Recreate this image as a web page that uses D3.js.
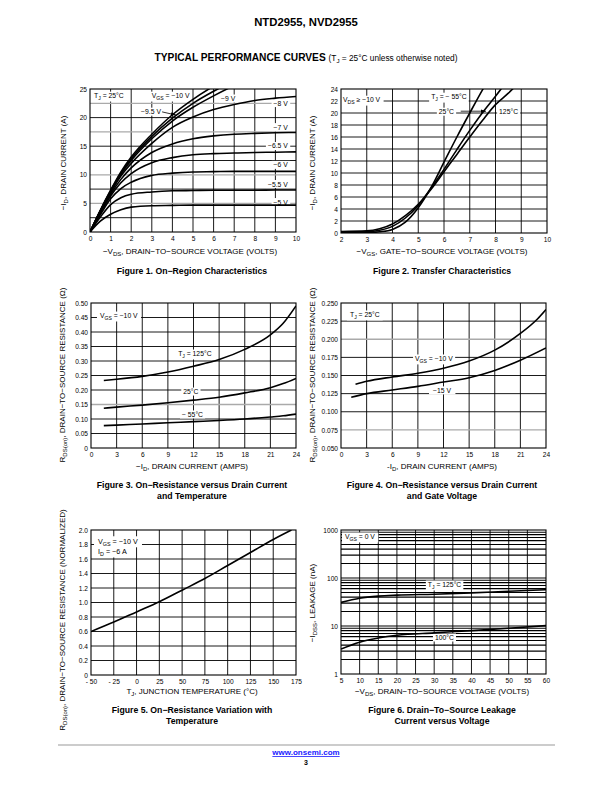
<!DOCTYPE html>
<html><head><meta charset="utf-8">
<script src="https://cdn.jsdelivr.net/npm/d3@7"></script>
<style>body{margin:0;background:#fff}svg{display:block}text{font-family:"Liberation Sans",Arial,Helvetica,sans-serif;fill:#000}</style>
</head><body><svg id="c" width="612" height="792"></svg>
<script>
// ---------------- DATA ----------------
// Figure 1: On-region characteristics
const f1Vds = [0, 0.5, 1, 1.5, 2, 3, 4, 5, 6, 7, 8, 9, 10];
const f1Id_5   = [0, 1.9, 3.1, 3.9, 4.35, 4.6, 4.65, 4.7, 4.7, 4.7, 4.7, 4.7, 4.7];
const f1Id_55  = [0, 2.6, 4.8, 6.0, 6.6, 7.0, 7.2, 7.25, 7.3, 7.3, 7.3, 7.35, 7.35];
const f1Id_6   = [0, 3.0, 5.8, 7.6, 8.7, 9.9, 10.3, 10.5, 10.55, 10.6, 10.6, 10.6, 10.6];
const f1Id_65  = [0, 3.3, 6.3, 8.6, 10.2, 12.1, 13.0, 13.5, 13.7, 13.8, 13.9, 13.95, 14.0];
const f1Id_7   = [0, 3.5, 6.6, 9.2, 11.2, 13.9, 15.4, 16.3, 16.8, 17.1, 17.25, 17.35, 17.4];
const f1Id_8   = [0, 3.6, 6.9, 9.8, 12.0, 15.5, 18.3, 20.1, 21.4, 22.3, 23.0, 23.4, 23.7];
const f1Id_9   = [0, 3.7, 7.1, 10.1, 12.5, 16.3, 19.4, 21.8, 23.8, 25.6, 27, 28, 29];
const f1Id_95  = [0, 3.75, 7.2, 10.3, 12.8, 16.7, 19.9, 22.5, 24.6, 26.5, 28, 29, 30];
const f1Id_10  = [0, 3.8, 7.3, 10.5, 13.1, 17.1, 20.5, 23.2, 25.5, 27.5, 29, 30, 31];
const f1XTicks = [0,1,2,3,4,5,6,7,8,9,10];
const f1YTicks = [0,5,10,15,20,25];
const f1YGrid  = [2.5,5,7.5,10,12.5,15,17.5,20,22.5];
const f1YGray  = [5,10,17.5,22.5];

// Figure 2: Transfer characteristics
const f2Vgs   = [2, 3, 3.5, 4, 4.5, 5, 5.5, 6, 6.5, 7, 7.5, 8, 8.5, 9];
const f2Id_m55 = [0.0, 0.05, 0.2, 0.6, 1.8, 4.2, 7.6, 11.8, 16.0, 20.0, 23.9, 27.5, 31, 34];
const f2Id_25  = [0.1, 0.2, 0.45, 1.1, 2.5, 4.6, 7.5, 10.6, 13.9, 17.1, 20.1, 22.8, 25.6, 28];
const f2Id_125 = [0.25, 0.35, 0.7, 1.5, 2.9, 4.8, 7.3, 10.2, 13.1, 16.0, 18.8, 21.4, 23.3, 25.5];
const f2XTicks = [2,3,4,5,6,7,8,9,10];
const f2YTicks = [0,2,4,6,8,10,12,14,16,18,20,22,24];

// Figure 3: RDS(on) vs drain current and temperature
const f3Id    = [1.5, 3, 6, 9, 12, 15, 18, 21, 22.5, 24];
const f3R_125 = [0.233, 0.237, 0.247, 0.262, 0.282, 0.305, 0.340, 0.390, 0.430, 0.490];
const f3R_25  = [0.137, 0.141, 0.148, 0.156, 0.165, 0.175, 0.190, 0.208, 0.222, 0.240];
const f3R_m55 = [0.077, 0.079, 0.083, 0.087, 0.091, 0.095, 0.100, 0.107, 0.111, 0.117];
const f3XTicks = [0,3,6,9,12,15,18,21,24];
const f3YTicks = [0,0.05,0.10,0.15,0.20,0.25,0.30,0.35,0.40,0.45,0.50];
const f3YGray  = [0.15];

// Figure 4: RDS(on) vs drain current and gate voltage
const f4Id10  = [1.7, 3, 6, 9, 12, 15, 18, 21, 23, 24];
const f4R_10  = [0.138, 0.142, 0.148, 0.153, 0.160, 0.170, 0.185, 0.208, 0.228, 0.241];
const f4Id15  = [1.2, 3, 6, 9, 12, 15, 18, 21, 24];
const f4R_15  = [0.120, 0.125, 0.130, 0.135, 0.141, 0.147, 0.157, 0.171, 0.188];
const f4XTicks = [0,3,6,9,12,15,18,21,24];
const f4YTicks = [0.050,0.075,0.100,0.125,0.150,0.175,0.200,0.225,0.250];
const f4YGray  = [0.075,0.200];

// Figure 5: normalized RDS(on) vs temperature
const f5T = [-50, -25, 0, 25, 50, 75, 100, 125, 150, 170];
const f5R = [0.60, 0.73, 0.87, 1.01, 1.17, 1.33, 1.51, 1.69, 1.87, 2.00];
const f5XTicks = [-50,-25,0,25,50,75,100,125,150,175];
const f5XLabels = ["- 50","- 25","0","25","50","75","100","125","150","175"];
const f5YTicks = [0,0.2,0.4,0.6,0.8,1.0,1.2,1.4,1.6,1.8,2.0];

// Figure 6: drain-to-source leakage vs voltage
const f6V      = [5, 10, 15, 20, 30, 40, 50, 60];
const f6I_125  = [31, 38, 42, 44, 46, 49, 53, 57];
const f6I_100  = [3.3, 4.6, 5.6, 6.4, 7.2, 8.0, 9.0, 10.2];
const f6XTicks = [5,10,15,20,25,30,35,40,45,50,55,60];
const f6YTicks = [1,10,100,1000];

// ---------------- DRAWING ----------------
const svg = d3.select("#c");
const TICK = 6.6, TITLE = 8, CAP = 8.7;

function rich(sel, str, size){
  const parts = str.split(/(_\{[^}]*\})/).filter(s=>s.length);
  let shifted = false;
  parts.forEach(p=>{
    if (p.startsWith("_{")){
      sel.append("tspan").attr("font-size", size*0.75).attr("dy", size*0.28).text(p.slice(2,-1));
      shifted = true;
    } else {
      const t = sel.append("tspan").text(p);
      if (shifted){ t.attr("dy", -size*0.28); shifted = false; }
    }
  });
  return sel;
}

function boxedLabel(g, str, x, y, size, anchor, pad){
  const t = g.append("text").attr("x", x).attr("y", y).attr("font-size", size)
    .attr("text-anchor", anchor || "start");
  rich(t, str, size);
  const b = t.node().getBBox();
  const p = pad == null ? 2 : pad;
  g.insert("rect", () => t.node()).attr("x", b.x - p).attr("y", b.y - 0.5)
    .attr("width", b.width + 2*p).attr("height", b.height + 1).attr("fill", "#fff");
  return t;
}

let clipId = 0;
function chart(c){
  const x = (c.xlog ? d3.scaleLog() : d3.scaleLinear()).domain(c.xd).range([c.L, c.R]);
  const y = (c.ylog ? d3.scaleLog() : d3.scaleLinear()).domain(c.yd).range([c.B, c.T]);
  const g = svg.append("g");
  const id = "clip" + (clipId++);
  g.append("clipPath").attr("id", id).append("rect")
    .attr("x", c.L).attr("y", c.T).attr("width", c.R - c.L).attr("height", c.B - c.T);

  const isGray = d => (c.ygray||[]).some(v=>Math.abs(v-d)<1e-9);
  const grid = g.append("g");
  grid.selectAll(".vx").data(c.xgrid).join("line")
    .attr("x1", d=>x(d)).attr("x2", d=>x(d)).attr("y1", c.T).attr("y2", c.B)
    .attr("stroke", "#000").attr("stroke-width", 0.9);
  grid.selectAll(".hy").data(c.ygrid).join("line")
    .attr("y1", d=>y(d)).attr("y2", d=>y(d)).attr("x1", c.L).attr("x2", c.R)
    .attr("stroke", d => isGray(d) ? "#aaa" : "#000")
    .attr("stroke-width", d => isGray(d) ? 1.3 : (c.gw || 0.9));

  const lab = g.append("g");
  (c.labels||[]).forEach(L => boxedLabel(lab, L.t, x(L.x), y(L.y), L.size || 6.8, L.anchor, L.pad));

  const cg = g.append("g").attr("clip-path", `url(#${id})`);
  c.series.forEach(s => {
    const line = d3.line().x(d=>x(d[0])).y(d=>y(d[1])).curve(d3.curveMonotoneX);
    cg.append("path").datum(d3.zip(s.x, s.y)).attr("d", line)
      .attr("fill", "none").attr("stroke", "#000").attr("stroke-width", s.w || 1.6);
  });

  (c.arrows||[]).forEach(a => {
    const x1 = x(a.from[0]), y1 = y(a.from[1]), x2 = x(a.to[0]), y2 = y(a.to[1]);
    g.append("line").attr("x1", x1).attr("y1", y1).attr("x2", x2).attr("y2", y2)
      .attr("stroke", "#000").attr("stroke-width", 0.8);
    const ang = Math.atan2(y2 - y1, x2 - x1), L = 5, W = 1.8;
    const p = [[x2, y2],
      [x2 - L*Math.cos(ang) + W*Math.sin(ang), y2 - L*Math.sin(ang) - W*Math.cos(ang)],
      [x2 - L*Math.cos(ang) - W*Math.sin(ang), y2 - L*Math.sin(ang) + W*Math.cos(ang)]];
    g.append("polygon").attr("points", p.map(q=>q.join(",")).join(" ")).attr("fill", "#000");
  });

  g.append("rect").attr("x", c.L).attr("y", c.T).attr("width", c.R - c.L).attr("height", c.B - c.T)
    .attr("fill", "none").attr("stroke", "#000").attr("stroke-width", 1.1);

  const ax = d3.axisBottom(x).tickValues(c.xticks).tickSize(0).tickPadding(3)
    .tickFormat((d,i) => c.xlabels ? c.xlabels[i] : c.xfmt(d));
  const axg = g.append("g").attr("transform", `translate(0,${c.B})`).call(ax);
  axg.select(".domain").remove();
  axg.selectAll("text").attr("font-size", TICK).attr("font-family", null).attr("dy", "0.85em");
  const ay = d3.axisLeft(y).tickValues(c.yticks).tickSize(0).tickPadding(3).tickFormat(c.yfmt);
  const ayg = g.append("g").attr("transform", `translate(${c.L},0)`).call(ay);
  ayg.select(".domain").remove();
  ayg.selectAll("text").attr("font-size", TICK).attr("font-family", null);

  rich(g.append("text").attr("x", c.xtx).attr("y", c.xty).attr("font-size", TITLE)
    .attr("text-anchor", "middle"), c.xtitle, TITLE);
  rich(g.append("text").attr("transform", `translate(${c.ytx},${c.yty}) rotate(-90)`)
    .attr("font-size", TITLE).attr("text-anchor", "middle"), c.ytitle, TITLE);

  c.caption.forEach((s, i) => g.append("text").attr("x", c.capx).attr("y", c.capy + i*11)
    .attr("font-size", CAP).attr("font-weight", "bold").attr("text-anchor", "middle").text(s));
}

// header
svg.append("text").attr("x", 306).attr("y", 26).attr("text-anchor", "middle")
  .attr("font-size", 11.3).attr("font-weight", "bold").text("NTD2955, NVD2955");
const sub = svg.append("text").attr("x", 306).attr("y", 61).attr("text-anchor", "middle");
sub.append("tspan").attr("font-size", 10.2).attr("font-weight", "bold").text("TYPICAL PERFORMANCE CURVES ");
sub.append("tspan").attr("font-size", 8.3).text("(T");
sub.append("tspan").attr("font-size", 6.2).attr("dy", 2).text("J");
sub.append("tspan").attr("font-size", 8.3).attr("dy", -2).text(" = 25°C unless otherwise noted)");

const f0 = d => d3.format(".0f")(d);

chart({
  L: 90, R: 296, T: 89, B: 232, xd: [0,10], yd: [0,25],
  xgrid: f1XTicks.slice(1,-1), ygrid: f1YGrid, ygray: f1YGray,
  xticks: f1XTicks, yticks: f1YTicks, xfmt: f0, yfmt: f0,
  series: [f1Id_5,f1Id_55,f1Id_6,f1Id_65,f1Id_7,f1Id_8,f1Id_9,f1Id_95,f1Id_10].map(v=>({x:f1Vds,y:v})),
  labels: [
    {t:"T_{J} = 25°C", x:0.2, y:23.4, pad:3},
    {t:"V_{GS} = −10 V", x:3.0, y:23.4},
    {t:"−9.5 V", x:2.48, y:20.6},
    {t:"−9 V", x:6.36, y:22.9},
    {t:"−8 V", x:9.6, y:22.1, anchor:"end"},
    {t:"−7 V", x:9.6, y:17.9, anchor:"end"},
    {t:"−6.5 V", x:9.6, y:14.6, anchor:"end"},
    {t:"−6 V", x:9.6, y:11.3, anchor:"end"},
    {t:"−5.5 V", x:9.6, y:7.95, anchor:"end"},
    {t:"−5 V", x:9.6, y:4.8, anchor:"end"}
  ],
  arrows: [{from:[3.5, 21.0], to:[4.17, 20.45]}],
  xtx: 190, xty: 254, xtitle: "−V_{DS}, DRAIN−TO−SOURCE VOLTAGE (VOLTS)",
  ytx: 66, yty: 163, ytitle: "−I_{D}, DRAIN CURRENT (A)",
  capx: 192, capy: 274, caption: ["Figure 1. On−Region Characteristics"]
});

chart({
  L: 341, R: 547, T: 89, B: 233, xd: [2,10], yd: [0,24],
  xgrid: f2XTicks.slice(1,-1), ygrid: f2YTicks.slice(1,-1),
  xticks: f2XTicks, yticks: f2YTicks, xfmt: f0, yfmt: f0,
  series: [f2Id_m55, f2Id_25, f2Id_125].map(v=>({x:f2Vgs,y:v})),
  labels: [
    {t:"V_{DS} ≥ −10 V", x:2.08, y:21.8, pad:3},
    {t:"T_{J} = − 55°C", x:5.5, y:22.3},
    {t:"25°C", x:5.8, y:19.8},
    {t:"125°C", x:8.14, y:19.8}
  ],
  arrows: [{from:[6.65, 20.3], to:[7.63, 20.3]}],
  xtx: 442, xty: 254, xtitle: "−V_{GS}, GATE−TO−SOURCE VOLTAGE (VOLTS)",
  ytx: 315, yty: 163, ytitle: "−I_{D}, DRAIN CURRENT (A)",
  capx: 442, capy: 274, caption: ["Figure 2. Transfer Characteristics"]
});

chart({
  L: 91, R: 296, T: 303, B: 448, xd: [0,24], yd: [0,0.5],
  xgrid: f3XTicks.slice(1,-1), ygrid: f3YTicks.slice(1,-1), ygray: f3YGray,
  xticks: f3XTicks, yticks: f3YTicks, xfmt: f0, yfmt: d => d===0 ? "0" : d3.format(".2f")(d),
  series: [f3R_125, f3R_25, f3R_m55].map(v=>({x:f3Id,y:v})),
  labels: [
    {t:"V_{GS} = −10 V", x:1.05, y:0.448, pad:3},
    {t:"T_{J} = 125°C", x:10.2, y:0.317},
    {t:"25°C", x:10.8, y:0.186},
    {t:"− 55°C", x:10.65, y:0.107}
  ],
  xtx: 192, xty: 469, xtitle: "−I_{D}, DRAIN CURRENT (AMPS)",
  ytx: 65, yty: 375, ytitle: "R_{DS(on)}, DRAIN−TO−SOURCE RESISTANCE (Ω)",
  capx: 192, capy: 488, caption: ["Figure 3. On−Resistance versus Drain Current", "and Temperature"]
});

chart({
  L: 341, R: 546, T: 303, B: 448, xd: [0,24], yd: [0.05,0.25],
  xgrid: f4XTicks.slice(1,-1), ygrid: f4YTicks.slice(1,-1), ygray: f4YGray,
  xticks: f4XTicks, yticks: f4YTicks, xfmt: f0, yfmt: d3.format(".3f"),
  series: [{x:f4Id10, y:f4R_10}, {x:f4Id15, y:f4R_15}],
  labels: [
    {t:"T_{J} = 25°C", x:1.05, y:0.2307, pad:3},
    {t:"V_{GS} = −10 V", x:8.67, y:0.170},
    {t:"−15 V", x:10.77, y:0.126, pad:4}
  ],
  xtx: 442, xty: 469, xtitle: "-I_{D}, DRAIN CURRENT (AMPS)",
  ytx: 315, yty: 375, ytitle: "R_{DS(on)}, DRAIN−TO−SOURCE RESISTANCE (Ω)",
  capx: 442, capy: 488, caption: ["Figure 4. On−Resistance versus Drain Current", "and Gate Voltage"]
});

chart({
  L: 91, R: 296, T: 530, B: 675, xd: [-50,175], yd: [0,2],
  xgrid: f5XTicks.slice(1,-1), ygrid: f5YTicks.slice(1,-1),
  xticks: f5XTicks, xlabels: f5XLabels, yticks: f5YTicks, xfmt: f0,
  yfmt: d => d===0 ? "0" : d3.format(".1f")(d),
  series: [{x:f5T, y:f5R}],
  labels: [
    {t:"V_{GS} = −10 V", x:-42.3, y:1.81, size:7.2, pad:4},
    {t:"I_{D} = −6 A", x:-42.3, y:1.67, size:7.2, pad:4}
  ],
  xtx: 192, xty: 694, xtitle: "T_{J}, JUNCTION TEMPERATURE (°C)",
  ytx: 65, yty: 620, ytitle: "R_{DS(on)}, DRAIN−TO−SOURCE RESISTANCE (NORMALIZED)",
  capx: 192, capy: 713, caption: ["Figure 5. On−Resistance Variation with", "Temperature"]
});

const y6 = d3.scaleLog().domain([1,1000]);
chart({
  L: 341, R: 546, T: 530, B: 674, xd: [5,60], yd: [1,1000], ylog: true, gw: 1.1,
  xgrid: f6XTicks.slice(1,-1), ygrid: y6.ticks().filter(d=>d>1 && d<1000),
  xticks: f6XTicks, yticks: f6YTicks, xfmt: f0, yfmt: f0,
  series: [{x:f6V, y:f6I_125}, {x:f6V, y:f6I_100}],
  labels: [
    {t:"V_{GS} = 0 V", x:6.07, y:649, pad:3},
    {t:"T_{J} = 125°C", x:28.3, y:64.9},
    {t:"100°C", x:30.2, y:5.11}
  ],
  xtx: 442, xty: 694, xtitle: "−V_{DS}, DRAIN−TO−SOURCE VOLTAGE (VOLTS)",
  ytx: 315, yty: 603, ytitle: "−I_{DSS}, LEAKAGE (nA)",
  capx: 442, capy: 713, caption: ["Figure 6. Drain−To−Source Leakage", "Current versus Voltage"]
});

// footer
svg.append("line").attr("x1", 58).attr("x2", 555).attr("y1", 745).attr("y2", 745)
  .attr("stroke", "#bbb").attr("stroke-width", 1.6);
svg.append("text").attr("x", 306).attr("y", 755).attr("text-anchor", "middle")
  .attr("font-size", 8).attr("font-weight", "bold").style("fill", "#1a1aff")
  .attr("text-decoration", "underline").text("www.onsemi.com");
svg.append("text").attr("x", 306).attr("y", 765).attr("text-anchor", "middle")
  .attr("font-size", 7).attr("font-weight", "bold").text("3");
</script></body></html>
